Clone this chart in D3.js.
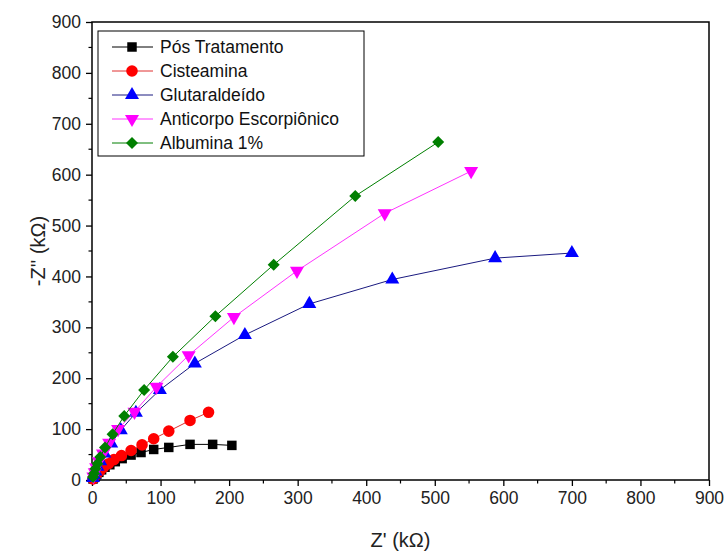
<!DOCTYPE html>
<html>
<head>
<meta charset="utf-8">
<script src="https://cdn.jsdelivr.net/npm/d3@7"></script>
<style>
  body { margin: 0; background: #fff; }
  svg { font-family: "Liberation Sans", Arial, sans-serif; }
</style>
</head>
<body>
<svg id="chart"></svg>
<script>
// Nyquist data, values (kOhm)
const posX = [204, 176, 143, 112, 90, 71.5, 57, 44, 34, 26, 19, 14, 10, 7, 5, 3, 1.5]
const posY = [68, 70, 70, 64, 60, 54, 49, 42, 36, 30, 25, 20, 15, 11, 8, 5, 2]

const cisX = [170, 143, 112, 90, 73, 57, 43, 32, 24, 17, 12, 8, 5, 3, 1.5]
const cisY = [133, 117, 96, 81, 69, 58, 48, 40, 32, 25, 19, 14, 9, 5, 2]

const gluX = [700, 588, 438, 317, 223, 150, 99, 64, 42, 28, 18, 12, 8, 5, 3, 1.5]
const gluY = [446, 436, 394, 346, 285, 229, 177, 132, 98, 72, 52, 37, 26, 17, 10, 4]

const antX = [553, 427, 299, 207, 141, 94, 62, 38, 25, 16, 10, 6, 4, 2]
const antY = [607, 524, 411, 320, 245, 183, 134, 100, 73, 52, 37, 25, 15, 7]

const albX = [505, 384, 265, 180, 118, 76, 47, 30, 19, 12, 8, 5, 3, 1.5]
const albY = [664, 558, 423, 322, 242, 177, 126, 90, 64, 45, 32, 22, 13, 6]

const seriesNames = ["Pós Tratamento", "Cisteamina", "Glutaraldeído", "Anticorpo Escorpiônico", "Albumina 1%"]
const xTicks = [0, 100, 200, 300, 400, 500, 600, 700, 800, 900]
const yTicks = [0, 100, 200, 300, 400, 500, 600, 700, 800, 900]

const width = 724, height = 554
const margin = { left: 92, right: 15, top: 22, bottom: 74 }

const series = [
    { name: seriesNames[0], xs: posX, ys: posY, color: "#000000", line: "#000000", sym: d3.symbolSquare, size: 90, rot: 0 },
    { name: seriesNames[1], xs: cisX, ys: cisY, color: "#ff0000", line: "#e03030", sym: d3.symbolCircle, size: 105, rot: 0 },
    { name: seriesNames[2], xs: gluX, ys: gluY, color: "#0000ff", line: "#1a1a80", sym: d3.symbolTriangle, size: 85, rot: 0 },
    { name: seriesNames[3], xs: antX, ys: antY, color: "#ff00ff", line: "#ff33ff", sym: d3.symbolTriangle, size: 85, rot: 180 },
    { name: seriesNames[4], xs: albX, ys: albY, color: "#007f00", line: "#007f00", sym: d3.symbolSquare, size: 72, rot: 45 }
]

const svg = d3.select("#chart").attr("width", width).attr("height", height)

const x = d3.scaleLinear().domain([0, 900]).range([margin.left, width - margin.right])
const y = d3.scaleLinear().domain([0, 900]).range([height - margin.bottom, margin.top])

// frame
svg.append("rect")
    .attr("x", x(0)).attr("y", y(900))
    .attr("width", x(900) - x(0)).attr("height", y(0) - y(900))
    .attr("fill", "none").attr("stroke", "#000").attr("stroke-width", 1.5)

// minor ticks
const minor = d3.range(50, 900, 100)
svg.append("g").selectAll("line").data(minor).join("line")
    .attr("x1", d => x(d)).attr("x2", d => x(d))
    .attr("y1", y(0)).attr("y2", y(0) + 3.5)
    .attr("stroke", "#000").attr("stroke-width", 1.2)
svg.append("g").selectAll("line").data(minor).join("line")
    .attr("y1", d => y(d)).attr("y2", d => y(d))
    .attr("x1", x(0)).attr("x2", x(0) - 3.5)
    .attr("stroke", "#000").attr("stroke-width", 1.2)

const xAxis = svg.append("g")
    .attr("transform", `translate(0,${y(0)})`)
    .call(d3.axisBottom(x).tickValues(xTicks).tickSize(6).tickPadding(6))
const yAxis = svg.append("g")
    .attr("transform", `translate(${x(0)},0)`)
    .call(d3.axisLeft(y).tickValues(yTicks).tickSize(6).tickPadding(5))

for (const ax of [xAxis, yAxis]) {
    ax.select(".domain").remove()
    ax.selectAll(".tick line").attr("stroke-width", 1.3)
    ax.selectAll(".tick text").attr("font-size", 17.5).attr("fill", "#222")
        .style("font-family", "'Liberation Sans', Arial, sans-serif")
}

// axis titles
svg.append("text")
    .attr("x", (x(0) + x(900)) / 2).attr("y", 547)
    .attr("text-anchor", "middle").attr("font-size", 20).attr("fill", "#222")
    .text("Z' (kΩ)")
svg.append("text")
    .attr("transform", `translate(45,${(y(0) + y(900)) / 2}) rotate(-90)`)
    .attr("text-anchor", "middle").attr("font-size", 20).attr("fill", "#222")
    .text("-Z'' (kΩ)")

const line = d3.line().x(d => x(d[0])).y(d => y(d[1]))

const sym = s => d3.symbol(s.sym, s.size)()

for (const s of series) {
    const pts = s.xs.map((v, i) => [v, s.ys[i]])
    const g = svg.append("g")
    g.append("path")
        .attr("d", line(pts))
        .attr("fill", "none")
        .attr("stroke", s.line)
        .attr("stroke-width", 1)
    g.selectAll("path.pt").data(pts).join("path")
        .attr("class", "pt")
        .attr("d", sym(s))
        .attr("transform", d => `translate(${x(d[0])},${y(d[1])}) rotate(${s.rot})`)
        .attr("fill", s.color)
}

// legend
const lg = svg.append("g")
lg.append("rect")
    .attr("x", 98).attr("y", 31).attr("width", 266).attr("height", 125)
    .attr("fill", "#fff").attr("stroke", "#000").attr("stroke-width", 1)
series.forEach((s, i) => {
    const ly = 47 + i * 24
    lg.append("line")
        .attr("x1", 112).attr("x2", 153).attr("y1", ly).attr("y2", ly)
        .attr("stroke", s.line).attr("stroke-width", 1)
    lg.append("path")
        .attr("d", sym(s))
        .attr("transform", `translate(132,${ly}) rotate(${s.rot})`)
        .attr("fill", s.color)
    lg.append("text")
        .attr("x", 160).attr("y", ly + 6)
        .attr("font-size", 17.5).attr("fill", "#111")
        .text(s.name)
})
</script>
</body>
</html>
